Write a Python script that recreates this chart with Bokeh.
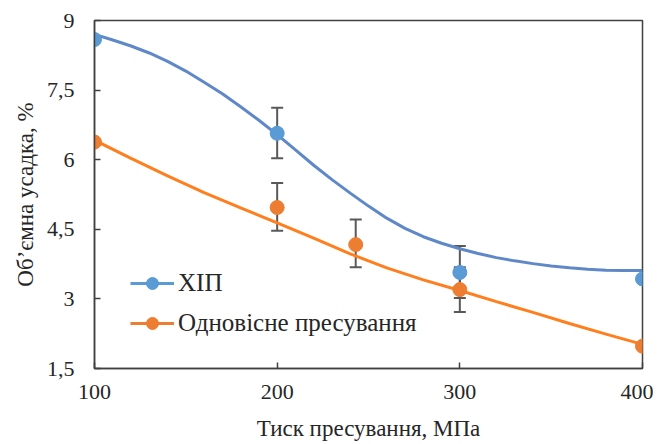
from bokeh.plotting import figure
from bokeh.models import ColumnDataSource, Whisker, TeeHead, Legend, LegendItem, FixedTicker, Range1d
from bokeh.embed import file_html
from bokeh.resources import INLINE

# data points
hip_x = [100, 200, 300, 400]
hip_y = [8.59, 6.57, 3.57, 3.43]
hip_err_x = [200, 300]
hip_err_lo = [6.03, 3.02]
hip_err_hi = [7.12, 4.14]

uni_x = [100, 200, 243, 300, 400]
uni_y = [6.38, 4.97, 4.17, 3.20, 1.98]
uni_err_x = [200, 243, 300]
uni_err_lo = [4.47, 3.68, 2.72]
uni_err_hi = [5.50, 4.71, 3.68]

# trend lines
hip_trend_x = [100, 110, 120, 130, 140, 150, 160, 170, 180, 190, 200, 210, 220, 230, 240, 250,
               260, 270, 280, 290, 300, 310, 320, 330, 340, 350, 360, 370, 380, 390, 400]
hip_trend = [8.70, 8.58, 8.45, 8.30, 8.12, 7.91, 7.67, 7.42, 7.14, 6.85, 6.54, 6.21, 5.88, 5.57, 5.28, 5.00,
             4.74, 4.52, 4.34, 4.20, 4.08, 3.98, 3.89, 3.82, 3.76, 3.71, 3.67, 3.64, 3.62, 3.61, 3.61]
uni_trend_x = [100, 120, 140, 160, 180, 200, 220, 240, 260, 280, 300, 320, 340, 360, 380, 400]
uni_trend = [6.42, 6.03, 5.65, 5.29, 4.96, 4.64, 4.31, 3.97, 3.67, 3.41, 3.18, 2.94, 2.71, 2.47, 2.24, 2.02]

x_ticks = [100, 200, 300, 400]
y_ticks = [1.5, 3, 4.5, 6, 7.5, 9]
y_tick_labels = ["1,5", "3", "4,5", "6", "7,5", "9"]

labels = ["ХІП", "Одновісне пресування"]
x_title = "Тиск пресування, МПа"
y_title = "Об’ємна усадка, %"

BLUE = "#5B9BD5"
BLUE_LINE = "#5F88C8"
ORANGE = "#ED7D31"
ORANGE_LINE = "#FF7F1E"
ERR = "#595959"
FONT = "'Liberation Serif', 'Times New Roman', serif"
TXT = "#262626"

p = figure(frame_width=548, frame_height=348, min_border_left=94, min_border_top=20,
           min_border_right=11, min_border_bottom=67,
           x_range=Range1d(100, 400), y_range=Range1d(1.5, 9),
           output_backend="svg", toolbar_location=None)
p.grid.visible = False
p.background_fill_color = "white"
p.outline_line_color = "#404040"
p.outline_line_width = 1.5

for ax in (p.xaxis[0], p.yaxis[0]):
    ax.axis_line_color = "#404040"
    ax.axis_line_width = 1.5
    ax.major_tick_in = 6
    ax.major_tick_out = 0
    ax.minor_tick_in = 0
    ax.minor_tick_out = 0
    ax.major_tick_line_color = "#404040"
    ax.major_tick_line_width = 1.5
    ax.major_label_text_font = FONT
    ax.major_label_text_font_size = "22px"
    ax.major_label_text_color = TXT
    ax.axis_label_text_font = FONT
    ax.axis_label_text_font_size = "23px"
    ax.axis_label_text_font_style = "normal"
    ax.axis_label_text_color = TXT

p.xaxis.ticker = FixedTicker(ticks=x_ticks)
p.yaxis.ticker = FixedTicker(ticks=y_ticks)
p.yaxis.major_label_overrides = {t: l for t, l in zip(y_ticks, y_tick_labels)}
p.xaxis.axis_label = x_title
p.yaxis.axis_label = y_title
p.xaxis.major_label_standoff = 16
p.yaxis.major_label_standoff = 20
p.xaxis.axis_label_standoff = 14
p.yaxis.axis_label_standoff = 6

l1 = p.line(hip_trend_x, hip_trend, line_color=BLUE_LINE, line_width=3)
l2 = p.line(uni_trend_x, uni_trend, line_color=ORANGE_LINE, line_width=3)

hip_err = ColumnDataSource(dict(x=hip_err_x, lo=hip_err_lo, hi=hip_err_hi))
uni_err = ColumnDataSource(dict(x=uni_err_x, lo=uni_err_lo, hi=uni_err_hi))
for src in (hip_err, uni_err):
    w = Whisker(source=src, base="x", lower="lo", upper="hi", line_color=ERR, line_width=2,
                upper_head=TeeHead(size=12, line_color=ERR, line_width=2),
                lower_head=TeeHead(size=12, line_color=ERR, line_width=2))
    p.add_layout(w)

s1 = p.scatter(hip_x, hip_y, size=14, fill_color=BLUE, line_color=BLUE)
s2 = p.scatter(uni_x, uni_y, size=14, fill_color=ORANGE, line_color=ORANGE)

# legend-only renderers
lg1 = p.line([None], [None], line_color=BLUE, line_width=3)
lgs1 = p.scatter([None], [None], size=9, fill_color=BLUE, line_color=BLUE)
lg2 = p.line([None], [None], line_color=ORANGE, line_width=3)
lgs2 = p.scatter([None], [None], size=9, fill_color=ORANGE, line_color=ORANGE)

legend = Legend(items=[LegendItem(label=labels[0], renderers=[lg1, lgs1]),
                       LegendItem(label=labels[1], renderers=[lg2, lgs2])],
                location=(36, 30), glyph_width=44, glyph_height=30, spacing=10,
                label_text_font=FONT, label_text_font_size="25px", label_text_color=TXT,
                label_standoff=4, padding=4, border_line_color=None,
                background_fill_alpha=0)
p.add_layout(legend)

open("out.html", "w").write(file_html(p, INLINE))
